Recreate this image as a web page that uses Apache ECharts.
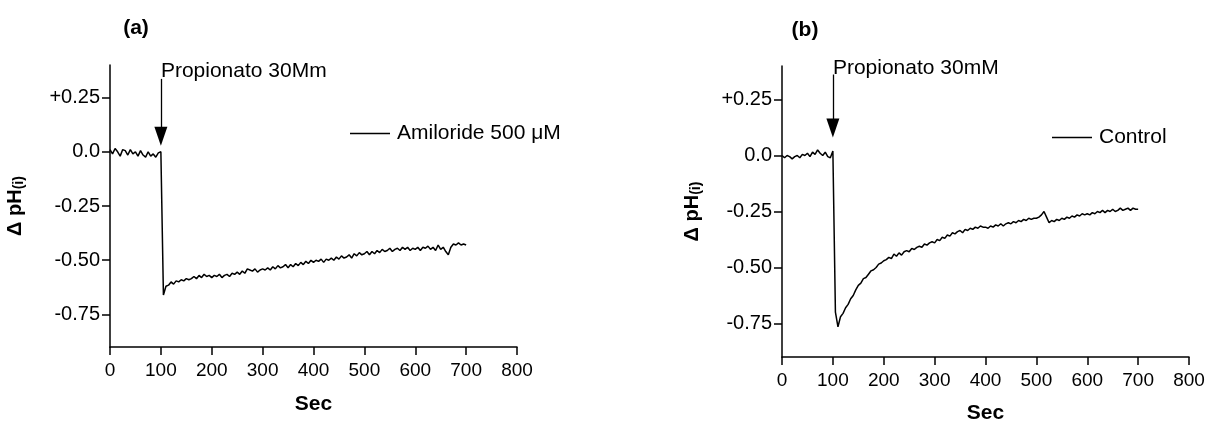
<!DOCTYPE html>
<html><head><meta charset="utf-8">
<script src="https://cdn.jsdelivr.net/npm/echarts@6/dist/echarts.min.js"></script>
<style>html,body{margin:0;padding:0;background:#fff}#c{width:1207px;height:422px}</style>
</head><body><div id="c"></div>
<script>
// ---- data ----
const sampleStepSec = 5; // one reading every 5 s, from 0 to 700 s
const amilorideValues = [
  0.01, -0.01, 0.015, 0.0, -0.02, 0.01, 0.005, -0.015, 0.01, -0.01,
  0.0, -0.02, 0.005, -0.015, -0.025, 0.0, -0.02, -0.01, -0.025, -0.005,
  0.0, -0.66, -0.62, -0.615, -0.60, -0.61, -0.595, -0.60, -0.59, -0.595,
  -0.585, -0.59, -0.585, -0.575, -0.585, -0.57, -0.58, -0.565, -0.575, -0.57,
  -0.58, -0.57, -0.575, -0.565, -0.58, -0.57, -0.565, -0.575, -0.56, -0.565,
  -0.555, -0.565, -0.55, -0.56, -0.54, -0.545, -0.55, -0.54, -0.555, -0.545,
  -0.54, -0.545, -0.535, -0.545, -0.53, -0.54, -0.525, -0.535, -0.53, -0.52,
  -0.535, -0.52, -0.53, -0.515, -0.525, -0.51, -0.52, -0.505, -0.515, -0.50,
  -0.51, -0.50, -0.505, -0.495, -0.51, -0.495, -0.50, -0.49, -0.50, -0.485,
  -0.495, -0.48, -0.49, -0.485, -0.475, -0.49, -0.47, -0.48, -0.465, -0.475,
  -0.47, -0.46, -0.475, -0.46, -0.47, -0.455, -0.465, -0.45, -0.46, -0.455,
  -0.445, -0.46, -0.45, -0.445, -0.455, -0.44, -0.45, -0.44, -0.455, -0.445,
  -0.45, -0.44, -0.455, -0.44, -0.445, -0.435, -0.45, -0.44, -0.455, -0.43,
  -0.45, -0.44, -0.46, -0.475, -0.44, -0.425, -0.43, -0.42, -0.43, -0.425,
  -0.43
];
const controlValues = [
  0.0, -0.01, 0.0, -0.005, -0.015, -0.005, 0.0, -0.01, 0.005, 0.0,
  0.01, -0.005, 0.015, 0.005, 0.025, 0.01, 0.0, 0.015, -0.005, -0.01,
  0.02, -0.70, -0.765, -0.72, -0.705, -0.68, -0.665, -0.64, -0.625, -0.60,
  -0.58, -0.57, -0.55, -0.545, -0.53, -0.515, -0.51, -0.50, -0.485, -0.48,
  -0.47, -0.465, -0.455, -0.46, -0.44, -0.45, -0.435, -0.445, -0.43, -0.425,
  -0.43, -0.415, -0.42, -0.41, -0.405, -0.41, -0.395, -0.40, -0.39, -0.385,
  -0.39, -0.375, -0.38, -0.365, -0.37, -0.355, -0.36, -0.345, -0.35, -0.34,
  -0.335, -0.345, -0.33, -0.335, -0.325, -0.33, -0.32, -0.325, -0.315, -0.32,
  -0.32, -0.325, -0.315, -0.32, -0.31, -0.315, -0.305, -0.315, -0.305, -0.30,
  -0.305, -0.295, -0.30, -0.29, -0.295, -0.285, -0.29, -0.28, -0.285, -0.28,
  -0.28, -0.275, -0.265, -0.25, -0.275, -0.30, -0.29, -0.295, -0.285, -0.29,
  -0.28, -0.285, -0.275, -0.28, -0.27, -0.275, -0.265, -0.27, -0.26, -0.265,
  -0.26, -0.265, -0.255, -0.26, -0.25, -0.255, -0.245, -0.255, -0.245, -0.25,
  -0.24, -0.25, -0.245, -0.235, -0.245, -0.24, -0.235, -0.245, -0.235, -0.24,
  -0.24
];
const xTicks = [0, 100, 200, 300, 400, 500, 600, 700, 800];
const yTicks = [0.25, 0, -0.25, -0.5, -0.75];
const yTickLabels = ['+0.25', '0.0', '-0.25', '-0.50', '-0.75'];
const panelTitles = ['(a)', '(b)'];
const seriesNames = ['Amiloride 500 μM', 'Control'];
const annotationTexts = ['Propionato 30Mm', 'Propionato 30mM'];
const additionTimeSec = 100;
const xAxisTitle = 'Sec';

// ---- chart ----
const FONT = '"Liberation Sans", Arial, sans-serif';
const toPairs = vals => vals.map((v, i) => [i * sampleStepSec, v]);

const grids = [
  { left: 110, top: 65, width: 407, height: 282, outerBoundsMode: 'none', containLabel: false },
  { left: 782, top: 66, width: 407, height: 291, outerBoundsMode: 'none', containLabel: false }
];
const arrowTop = [0.336, 0.362];
const arrowEnd = [0.072, 0.123];

function xAxis(i) {
  return {
    gridIndex: i, type: 'value', min: xTicks[0], max: xTicks[xTicks.length - 1], interval: 100,
    axisLine: { show: true, onZero: false, lineStyle: { color: '#000', width: 1.5 } },
    axisTick: { show: true, length: 8, lineStyle: { color: '#000', width: 1.5 } },
    axisLabel: { color: '#000', fontSize: 19, fontFamily: FONT, margin: 14 },
    splitLine: { show: false },
    name: xAxisTitle, nameLocation: 'middle', nameGap: i === 0 ? 47 : 46,
    nameTextStyle: { color: '#000', fontSize: 21, fontWeight: 'bold', fontFamily: FONT }
  };
}
function yAxis(i) {
  return {
    gridIndex: i, type: 'value', min: -0.9, max: 0.4,
    axisLine: { show: true, onZero: false, lineStyle: { color: '#000', width: 1.5 } },
    axisTick: { show: true, length: 8, customValues: yTicks, lineStyle: { color: '#000', width: 1.5 } },
    axisLabel: {
      color: '#000', fontSize: 20, fontFamily: FONT, margin: 10, customValues: yTicks,
      formatter: v => { const k = yTicks.findIndex(t => Math.abs(t - v) < 1e-6); return k >= 0 ? yTickLabels[k] : ''; }
    },
    splitLine: { show: false },
    name: '{m|Δ pH}{s|(i)}', nameLocation: 'middle', nameGap: i === 0 ? 84 : 79,
    nameTextStyle: {
      color: '#000', fontFamily: FONT,
      rich: {
        m: { fontSize: 20, fontWeight: 'bold', fontFamily: FONT, color: '#000' },
        s: { fontSize: 14, fontWeight: 'bold', fontFamily: FONT, color: '#000', padding: [8, 0, 0, 0] }
      }
    }
  };
}
function series(i, vals) {
  return {
    type: 'line', name: seriesNames[i], xAxisIndex: i, yAxisIndex: i,
    data: toPairs(vals), symbol: 'none', showSymbol: false,
    lineStyle: { color: '#000', width: 1.5 }, itemStyle: { color: '#000' },
    animation: false,
    markLine: {
      silent: true, animation: false,
      symbol: ['none', 'triangle'], symbolSize: [13, 19],
      lineStyle: { color: '#000', width: 1.3, type: 'solid' },
      itemStyle: { color: '#000' },
      label: { show: false },
      data: [[{ coord: [additionTimeSec, arrowTop[i]] }, { coord: [additionTimeSec, arrowEnd[i]] }]]
    }
  };
}

const legendCommon = {
  icon: 'rect', itemWidth: 40, itemHeight: 1.5, itemGap: 0,
  itemStyle: { color: '#000', borderWidth: 0 },
  textStyle: { fontSize: 21, color: '#000', fontFamily: FONT, padding: [0, 0, 0, 2] },
  selectedMode: false
};

const chart = echarts.init(document.getElementById('c'), null, { renderer: 'canvas' });
chart.setOption({
  backgroundColor: '#fff',
  animation: false,
  grid: grids,
  xAxis: [xAxis(0), xAxis(1)],
  yAxis: [yAxis(0), yAxis(1)],
  legend: [
    Object.assign({ data: [seriesNames[0]], left: 345, top: 118 }, legendCommon),
    Object.assign({ data: [seriesNames[1]], left: 1047, top: 122 }, legendCommon)
  ],
  series: [series(0, amilorideValues), series(1, controlValues)]
});

// titles & annotation texts positioned from the axes
const g = [];
const titleX = [136, 805], titleY = [28, 30];
const annY = [0.373, 0.388];
for (let i = 0; i < 2; i++) {
  g.push({ type: 'text', x: titleX[i], y: titleY[i], style: { text: panelTitles[i], font: 'bold 21px ' + FONT, fill: '#000', textAlign: 'center', textVerticalAlign: 'middle' } });
  const p = chart.convertToPixel({ xAxisIndex: i, yAxisIndex: i }, [additionTimeSec, annY[i]]);
  g.push({ type: 'text', x: p[0], y: p[1], style: { text: annotationTexts[i], font: '21px ' + FONT, fill: '#000', textAlign: 'left', textVerticalAlign: 'middle' } });
}
chart.setOption({ graphic: g });
</script>
</body></html>
